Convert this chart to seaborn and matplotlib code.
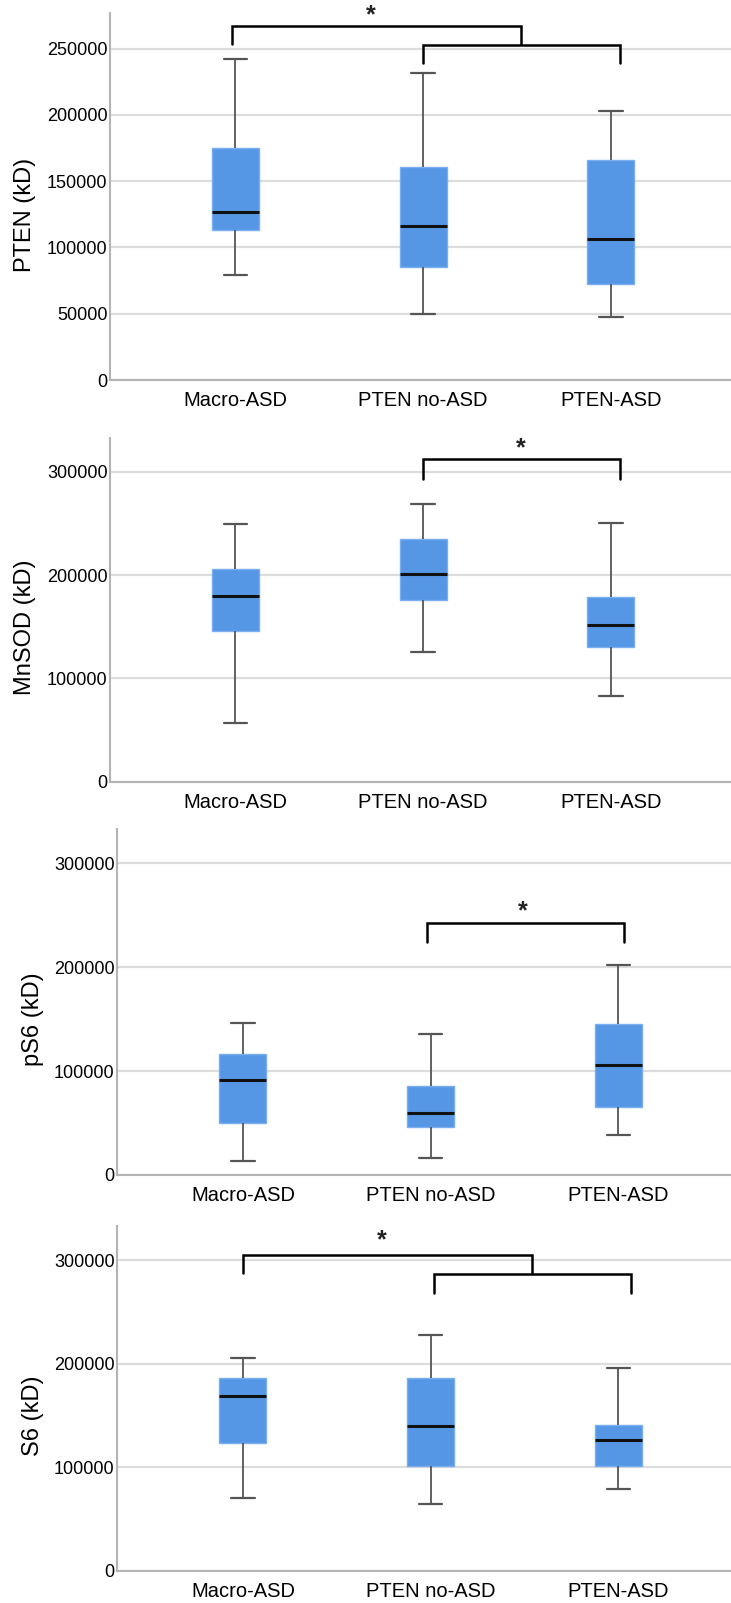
import pandas as pd
import matplotlib
matplotlib.use("Agg")
import matplotlib.pyplot as plt
import seaborn as sns

groups = ["Macro-ASD", "PTEN no-ASD", "PTEN-ASD"]

# five-number summaries per group: [min, q1, median, q3, max]
pten = [
    [79000, 113300, 126600, 174700, 242200],
    [49900, 85300, 116300, 160400, 231400],
    [47800, 72800, 106700, 165900, 202700],
]
mnsod = [
    [56800, 146100, 180300, 206100, 249400],
    [125200, 176100, 201300, 235500, 269000],
    [82600, 130600, 151300, 179000, 250300],
]
ps6 = [
    [13800, 50000, 91100, 116800, 146600],
    [16000, 46500, 60000, 86000, 135400],
    [38500, 65800, 105500, 145300, 202100],
]
s6 = [
    [70200, 123900, 168700, 186000, 206000],
    [65000, 101100, 140300, 186000, 227600],
    [78900, 101700, 126500, 141000, 196000],
]

ylabels = ["PTEN (kD)", "MnSOD (kD)", "pS6 (kD)", "S6 (kD)"]
yticks = [
    [0, 50000, 100000, 150000, 200000, 250000],
    [0, 100000, 200000, 300000],
    [0, 100000, 200000, 300000],
    [0, 100000, 200000, 300000],
]
ymax = [277000, 333000, 333000, 333000]

# significance brackets: (x_left, x_right, y_bar, y_leg_end)
brackets = [
    [(-0.02, 1.52, 266900, 253800), (1.0, 2.05, 253000, 239200)],
    [(1.0, 2.05, 312300, 293500)],
    [(0.98, 2.03, 242500, 224600)],
    [(0.0, 1.54, 305100, 288000), (1.02, 2.07, 287100, 268700)],
]
stars = [(0.72, 275000), (1.52, 323000), (1.49, 254000), (0.74, 319000)]

# axes rectangles in figure fractions
rects = [
    [0.151, 0.7629, 0.849, 0.2291],
    [0.151, 0.5123, 0.849, 0.2146],
    [0.1607, 0.267, 0.8393, 0.2157],
    [0.1607, 0.0200, 0.8393, 0.2152],
]
xlims = [(-0.665, 2.64), (-0.665, 2.64), (-0.668, 2.60), (-0.668, 2.60)]

sns.set_style("white")
plt.rcParams["font.family"] = ["Liberation Sans", "DejaVu Sans"]
plt.rcParams["text.color"] = "black"
plt.rcParams["axes.labelcolor"] = "black"
plt.rcParams["xtick.color"] = "black"
plt.rcParams["ytick.color"] = "black"

fig = plt.figure(figsize=(7.31, 16.03), dpi=100)

for i, values in enumerate([pten, mnsod, ps6, s6]):
    rows = []
    for g, five in zip(groups, values):
        for v in five:
            rows.append({"group": g, "value": v})
    df = pd.DataFrame(rows)

    ax = fig.add_axes(rects[i])
    ax.set_axisbelow(True)
    ax.yaxis.grid(True, color="#dcdcdc", linewidth=1.6)
    sns.boxplot(
        data=df, x="group", y="value", order=groups, ax=ax,
        width=0.25, whis=(0, 100), showfliers=False,
        boxprops=dict(facecolor="#5597e5", edgecolor="#7aaef0", linewidth=1.0),
        whiskerprops=dict(color="#555555", linewidth=1.3),
        capprops=dict(color="#555555", linewidth=1.6),
        medianprops=dict(color="#111111", linewidth=2.2),
    )
    ax.set_ylim(0, ymax[i])
    ax.set_xlim(*xlims[i])
    ax.set_yticks(yticks[i])
    ax.set_yticklabels([str(t) for t in yticks[i]], fontsize=13)
    ax.tick_params(axis="x", labelsize=14.5, length=0, pad=8, colors="black")
    ax.tick_params(axis="y", length=0, pad=2, colors="black")
    ax.set_xlabel("")
    ax.set_ylabel(ylabels[i], fontsize=17, color="black")
    ax.yaxis.set_label_coords(-0.12, 0.45)
    for side in ["top", "right"]:
        ax.spines[side].set_visible(False)
    for side in ["left", "bottom"]:
        ax.spines[side].set_color("#b4b4b4")
        ax.spines[side].set_linewidth(1.5)

    for x0, x1, yb, yl in brackets[i]:
        ax.plot([x0, x0, x1, x1], [yl, yb, yb, yl], color="black",
                linewidth=1.8, solid_joinstyle="miter", clip_on=False)
    sx, sy = stars[i]
    ax.text(sx, sy, "*", ha="center", va="center", fontsize=18,
            fontweight="bold", color="#222222")

fig.savefig("out.png", dpi=100)
